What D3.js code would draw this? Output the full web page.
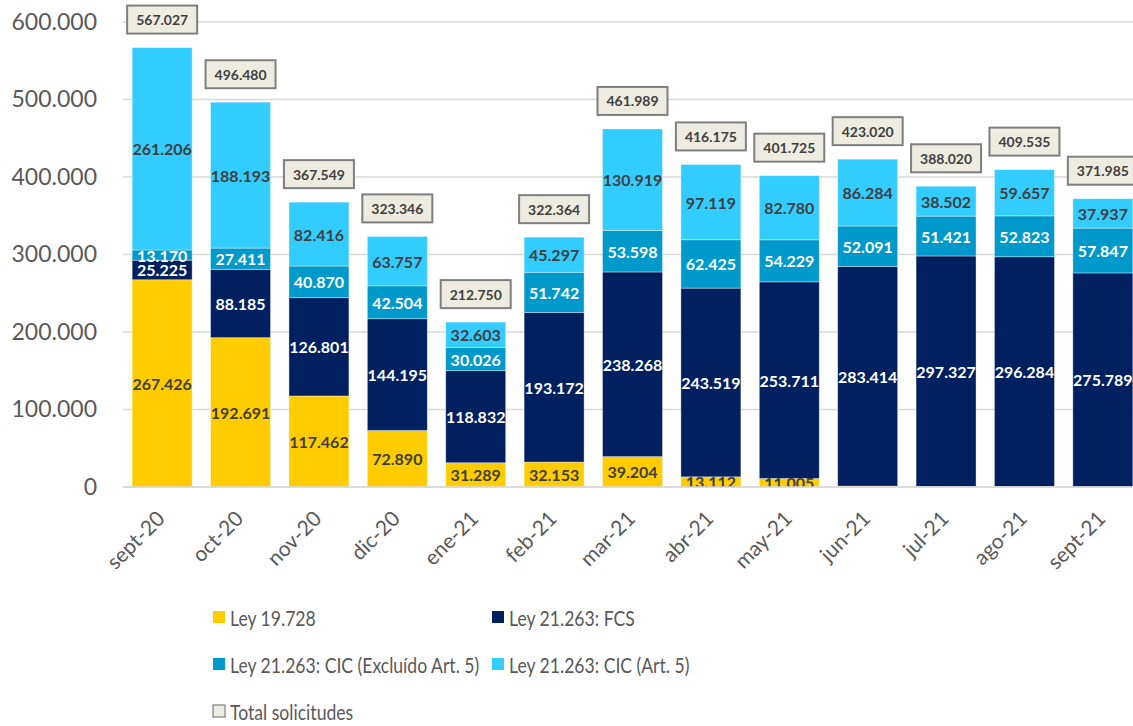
<!DOCTYPE html>
<html>
<head>
<meta charset="utf-8">
<script src="https://cdn.jsdelivr.net/npm/d3@7"></script>
<style>
  body { margin: 0; background: #fff; }
  svg { font-family: Lato, "Open Sans", sans-serif; }
</style>
</head>
<body>
<svg id="chart" width="1133" height="726"></svg>
<script>
var months = ["sept-20", "oct-20", "nov-20", "dic-20", "ene-21", "feb-21", "mar-21",
              "abr-21", "may-21", "jun-21", "jul-21", "ago-21", "sept-21"];

var ley19728 = [267426, 192691, 117462, 72890, 31289, 32153, 39204, 13112, 11005, 1231, 770, 771, 412];
var fcs      = [25225, 88185, 126801, 144195, 118832, 193172, 238268, 243519, 253711, 283414, 297327, 296284, 275789];
var cicExcl  = [13170, 27411, 40870, 42504, 30026, 51742, 53598, 62425, 54229, 52091, 51421, 52823, 57847];
var cicArt5  = [261206, 188193, 82416, 63757, 32603, 45297, 130919, 97119, 82780, 86284, 38502, 59657, 37937];
var totals   = [567027, 496480, 367549, 323346, 212750, 322364, 461989, 416175, 401725, 423020, 388020, 409535, 371985];

var yTicks = [0, 100000, 200000, 300000, 400000, 500000, 600000];

var seriesNames = ["Ley 19.728", "Ley 21.263: FCS", "Ley 21.263: CIC (Excluído Art. 5)", "Ley 21.263: CIC (Art. 5)"];
var seriesKeys = ["ley", "fcs", "excl", "art5"];
var seriesColors = ["#ffcc00", "#002060", "#0099cc", "#33ccff"];
var labelColors = ["#404040", "#ffffff", "#ffffff", "#404040"];

// table for d3.stack
var rows = months.map(function(m, i) {
    return { month: m, ley: ley19728[i], fcs: fcs[i], excl: cicExcl[i], art5: cicArt5[i], total: totals[i] };
});

var svg = d3.select("#chart");

var x = d3.scaleBand()
    .domain(months)
    .range([123, 1142])
    .paddingInner(0.235)
    .paddingOuter(0.117);

var y = d3.scaleLinear()
    .domain([0, 600000])
    .range([487, 22]);

var fmt = function(v) {
    return d3.format(",")(v).replace(/,/g, ".");
};

// gridlines
svg.append("g")
    .selectAll("line")
    .data(yTicks)
    .enter()
    .append("line")
    .attr("x1", 123)
    .attr("x2", 1133)
    .attr("y1", function(d){ return y(d); })
    .attr("y2", function(d){ return y(d); })
    .attr("stroke", "#d9d9d9")
    .attr("stroke-width", 1.5);

// y axis labels
var yAxis = d3.axisLeft(y)
    .tickValues(yTicks)
    .tickSize(0)
    .tickPadding(0)
    .tickFormat(function(d){ return d === 0 ? "0" : fmt(d); });

svg.append("g")
    .attr("transform", "translate(97,0)")
    .call(yAxis)
    .call(function(g){ g.select(".domain").remove(); })
    .selectAll("text")
    .attr("font-family", "Lato, sans-serif")
    .attr("font-size", 23)
    .attr("fill", "#595959");

var stack = d3.stack().keys(seriesKeys);
var layers = stack(rows);

svg.append("defs")
    .append("clipPath")
    .attr("id", "plotClip")
    .append("rect")
    .attr("x", 110).attr("y", 0)
    .attr("width", 1040).attr("height", 487);

var plot = svg.append("g").attr("clip-path", "url(#plotClip)");

var layerG = plot.selectAll("g.layer")
    .data(layers)
    .enter()
    .append("g")
    .attr("class", "layer")
    .attr("fill", function(d, i){ return seriesColors[i]; });

layerG.selectAll("rect")
    .data(function(d){ return d; })
    .enter()
    .append("rect")
    .attr("x", function(d){ return x(d.data.month); })
    .attr("width", x.bandwidth())
    .attr("y", function(d){ return y(d[1]); })
    .attr("height", function(d){ return y(d[0]) - y(d[1]); })
    .attr("stroke", "#ffffff")
    .attr("stroke-opacity", 0.45)
    .attr("stroke-width", 0.8);

// labels inside segments (tiny 19.728 values after may-21 have no label)
layers.forEach(function(layer, li) {
    plot.append("g")
        .selectAll("text")
        .data(layer.filter(function(d){ return d[1] - d[0] > 5000; }))
        .enter()
        .append("text")
        .attr("x", function(d){ return x(d.data.month) + x.bandwidth() / 2; })
        .attr("y", function(d){ return (y(d[0]) + y(d[1])) / 2; })
        .attr("text-anchor", "middle")
        .attr("dominant-baseline", "central")
        .attr("font-size", 16)
        .attr("font-weight", "bold")
        .attr("fill", labelColors[li])
        .text(function(d){ return fmt(d[1] - d[0]); });
});

// total boxes
var totalG = svg.append("g")
    .selectAll("g")
    .data(rows)
    .enter()
    .append("g")
    .attr("transform", function(d){
        return "translate(" + (x(d.month) + x.bandwidth() / 2) + "," + (y(d.total) - 28) + ")";
    });

totalG.append("rect")
    .attr("x", -35)
    .attr("y", -14)
    .attr("width", 70)
    .attr("height", 28)
    .attr("fill", "#eeece1")
    .attr("stroke", "#7f7f7f")
    .attr("stroke-width", 2);

totalG.append("text")
    .attr("text-anchor", "middle")
    .attr("dominant-baseline", "central")
    .attr("font-size", 14)
    .attr("font-weight", "bold")
    .attr("fill", "#404040")
    .text(function(d){ return fmt(d.total); });

// x axis line
svg.append("line")
    .attr("x1", 123).attr("x2", 1133)
    .attr("y1", y(0)).attr("y2", y(0))
    .attr("stroke", "#d9d9d9")
    .attr("stroke-width", 1.5);

// x labels, rotated
svg.append("g")
    .selectAll("text")
    .data(months)
    .enter()
    .append("text")
    .attr("transform", function(d){
        return "translate(" + (x(d) + x.bandwidth() / 2 + 4) + ",520) rotate(-45)";
    })
    .attr("text-anchor", "end")
    .attr("font-size", 21)
    .attr("fill", "#595959")
    .text(function(d){ return d; });

// legend
var legendItems = seriesNames.map(function(n, i){
    return { name: n, color: seriesColors[i], stroke: "none" };
});
legendItems.push({ name: "Total solicitudes", color: "#eeece1", stroke: "#7f7f7f" });

var legend = svg.append("g")
    .selectAll("g")
    .data(legendItems)
    .enter()
    .append("g")
    .attr("transform", function(d, i){
        return "translate(" + (i % 2 === 0 ? 213 : 492) + "," + (611 + Math.floor(i / 2) * 47) + ")";
    });

legend.append("rect")
    .attr("width", 12)
    .attr("height", 12)
    .attr("fill", function(d){ return d.color; })
    .attr("stroke", function(d){ return d.stroke; })
    .attr("stroke-width", 1.2);

// narrower glyphs, closer to the original's font
legend.append("text")
    .attr("transform", "translate(17,14.5) scale(0.8,1)")
    .attr("font-size", 22)
    .attr("fill", "#595959")
    .text(function(d){ return d.name; });
</script>
</body>
</html>
